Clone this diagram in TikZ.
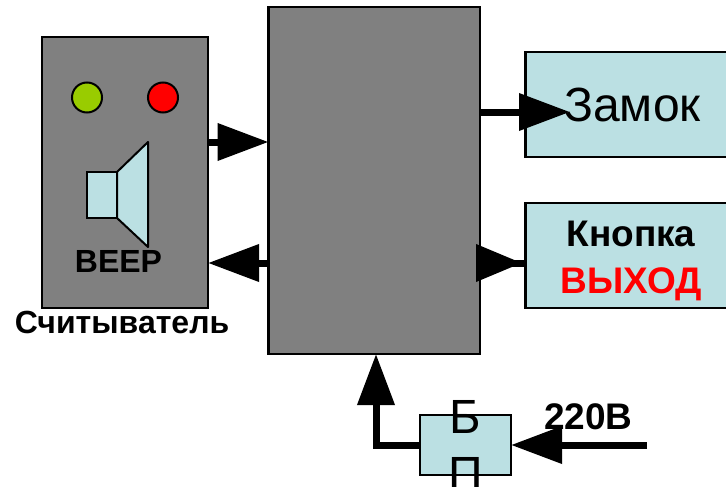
\documentclass[tikz,border=0pt]{standalone}
\usepackage{fontspec}
\setmainfont{Liberation Sans}
\usetikzlibrary{positioning,arrows.meta}

\begin{document}
\begin{tikzpicture}[
  x=1pt, y=-1pt,
  node distance=0pt,
  >={Triangle[length=51pt,width=36pt]},
  blk/.style={draw, line width=2.4pt, inner sep=0pt, outer sep=0pt},
  body/.style={blk, fill=grayfill},
  panel/.style={blk, fill=panelfill},
  led/.style={circle, draw, line width=2pt, inner sep=0pt, outer sep=0pt, minimum size=30pt},
  conn/.style={->, line width=7pt},
  lbl/.style={font=\fontsize{32}{36}\selectfont\bfseries, inner sep=0pt, align=center}]
  \definecolor{grayfill}{HTML}{808080}
  \definecolor{panelfill}{HTML}{BBE0E3}
  \definecolor{ledgreen}{HTML}{99CC00}
  \path[use as bounding box] (0,0) rectangle (726,487);
  % blocks
  \node[body, minimum width=211.5pt, minimum height=347pt] (ctrl) at (374.3,180.5) {};
  \node[body, minimum width=166pt, minimum height=271pt] (reader) at (125,172.5) {};
  \node[panel, minimum width=210pt, minimum height=105pt] (lock) at (630.5,104.5) {};
  \node[panel, minimum width=210pt, minimum height=105pt] (btn) at (630.5,255.5) {};
  \node[panel, minimum width=91pt, minimum height=60pt] (psu) at (465.5,445) {};
  % reader front
  \node[led, fill=ledgreen] (ledg) at (87,97.5) {};
  \node[led, fill=red] (ledr) at (163,97.5) {};
  \node[blk, fill=panelfill, line width=2pt, minimum width=30pt, minimum height=46pt] (coil) at (102,195) {};
  \draw[fill=panelfill, line width=2pt, line join=round] (coil.north east) -- (148,142) -- (148,247) -- (coil.south east) -- cycle;
  \node[lbl] (beep) at (118.5,261) {BEEP};
  \node[lbl, below=3pt of reader, xshift=-3pt] (readername) {Считыватель};
  % texts
  \node[font=\fontsize{48}{56}\selectfont, inner sep=0pt] (locktext) at (632.5,105) {Замок};
  \node[lbl, font=\fontsize{37}{40}\selectfont\bfseries] (btntext) at (631,234) {Кнопка};
  \node[lbl, font=\fontsize{37}{42}\selectfont\bfseries, text=red, below=20pt of btntext] (btnexit) {ВЫХОД};
  \node[font=\fontsize{48}{57}\selectfont, align=center, inner sep=0pt] (psutext) at (psu.center) {Б\\П};
  \node[lbl, font=\fontsize{37}{42}\selectfont\bfseries] (mains) at (588.5,417) {220В};
  % arrows
  \coordinate (rdup) at (238,142);
  \coordinate (rddown) at (238,263);
  \coordinate (lockline) at (500,112);
  \coordinate (btnline) at (500,263);
  \coordinate (lockhead) at (570,112);
  \coordinate (btnhead) at (476,263);
  \coordinate (feed) at (647,445);
  \draw[conn] (rdup -| reader.east) -- (rdup -| ctrl.west);
  \draw[conn] (rddown -| ctrl.west) -- (rddown -| reader.east);
  \draw[conn] (lockline -| ctrl.east) -- (lockhead);
  \draw[line width=7pt, -{Triangle[reversed,length=46pt,width=36pt]}] (btnline -| btn.west) -- (btnhead);
  \draw[conn] (psu.west) -| (ctrl.south -| 376,0);
  \draw[conn] (feed) -- (psu.east);
\end{tikzpicture}
\end{document}
